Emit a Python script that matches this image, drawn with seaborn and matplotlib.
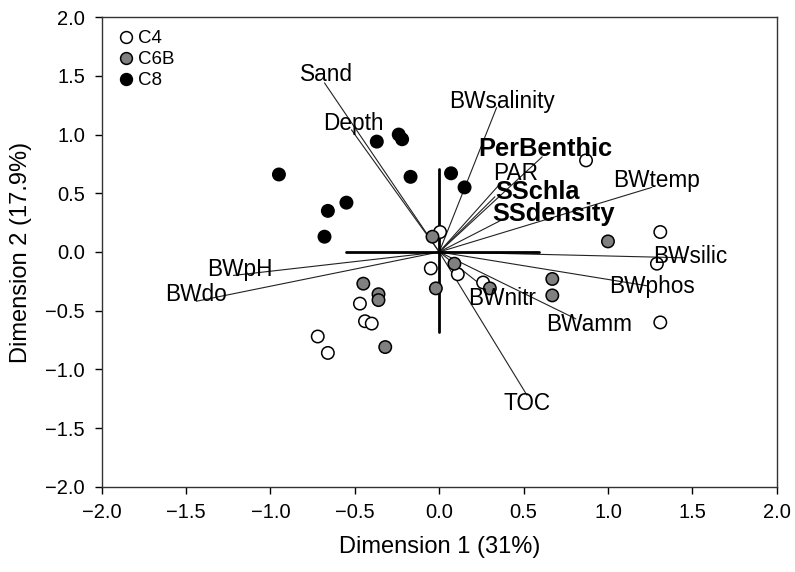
import numpy as np
import pandas as pd
import matplotlib
matplotlib.use("Agg")
import matplotlib.pyplot as plt
import seaborn as sns

# ---- sample scores ----
c4_x = [0.005, -0.05, 0.11, 0.26, 0.87, 1.31, 1.29, 1.31, -0.47, -0.44, -0.40, -0.72, -0.66]
c4_y = [0.17, -0.14, -0.19, -0.26, 0.78, 0.17, -0.10, -0.60, -0.44, -0.59, -0.61, -0.72, -0.86]
c6b_x = [-0.04, 0.09, -0.02, 0.30, -0.45, -0.36, -0.36, -0.32, 1.00, 0.67, 0.67]
c6b_y = [0.13, -0.10, -0.31, -0.31, -0.27, -0.36, -0.41, -0.81, 0.09, -0.23, -0.37]
c8_x = [-0.95, -0.66, -0.55, -0.68, -0.37, -0.24, -0.22, -0.17, 0.07, 0.15]
c8_y = [0.66, 0.35, 0.42, 0.13, 0.94, 1.00, 0.96, 0.64, 0.67, 0.55]
groups = ["C4", "C6B", "C8"]

# ---- environmental vectors ----
vec_names = ["Sand", "Depth", "BWsalinity", "PerBenthic", "PAR", "SSchla", "SSdensity",
             "BWtemp", "BWsilic", "BWphos", "BWamm", "BWnitr", "TOC", "BWdo", "BWpH"]
vec_x = [-0.68, -0.52, 0.34, 0.61, 0.36, 0.33, 0.38, 1.26, 1.46, 1.24, 0.81, 0.30, 0.52, -1.44, -1.22]
vec_y = [1.44, 1.04, 1.23, 0.81, 0.58, 0.47, 0.28, 0.55, -0.05, -0.29, -0.57, -0.34, -1.22, -0.42, -0.20]
bold_names = ["PerBenthic", "SSchla", "SSdensity"]

# ---- cross (axes of origin) ----
cross_h = [-0.55, 0.59]
cross_v = [-0.68, 0.71]

# ---- tick labels ----
ticks = [-2.0, -1.5, -1.0, -0.5, 0.0, 0.5, 1.0, 1.5, 2.0]

# layout: label offsets from vector ends
label_off = {
    "Sand": (0.01, 0.07), "Depth": (0.01, 0.05), "BWsalinity": (0.03, 0.05),
    "PerBenthic": (0.02, 0.07), "PAR": (0.09, 0.09), "SSchla": (0.25, 0.045),
    "SSdensity": (0.30, 0.045), "BWtemp": (0.03, 0.06), "BWsilic": (0.03, 0.01),
    "BWphos": (0.02, 0.00), "BWamm": (0.08, -0.05), "BWnitr": (0.07, -0.06),
    "TOC": (0.00, -0.07), "BWdo": (0.00, 0.06), "BWpH": (0.04, 0.05),
}

sns.set_style("ticks")
plt.rcParams["font.family"] = ["Liberation Sans", "DejaVu Sans"]
plt.rcParams["text.color"] = "black"
plt.rcParams["axes.labelcolor"] = "black"

df = pd.DataFrame({
    "x": c4_x + c6b_x + c8_x,
    "y": c4_y + c6b_y + c8_y,
    "group": ["C4"] * len(c4_x) + ["C6B"] * len(c6b_x) + ["C8"] * len(c8_x),
})

fig = plt.figure(figsize=(7.95, 5.72), dpi=100)
ax = fig.add_axes([0.128, 0.149, 0.849, 0.821])

# vectors
for n, vx, vy in zip(vec_names, vec_x, vec_y):
    ax.plot([0, vx], [0, vy], color="#222222", lw=0.8, zorder=1)
    dx, dy = label_off[n]
    bold = n in bold_names
    ax.text(vx + dx, vy + dy, n, ha="center", va="center",
            fontsize=18.3 if bold else 16.3,
            fontweight="bold" if bold else "normal", color="black", zorder=4)

# cross
ax.plot(cross_h, [0, 0], color="black", lw=2, zorder=2)
ax.plot([0, 0], cross_v, color="black", lw=2, zorder=2)

sns.scatterplot(data=df, x="x", y="y", hue="group", hue_order=groups,
                palette={"C4": "white", "C6B": "#808080", "C8": "black"},
                edgecolor="black", linewidth=1.1, s=80, ax=ax, zorder=3)

ax.set_xlim(-2, 2)
ax.set_ylim(-2, 2)
ax.set_xticks(ticks)
ax.set_yticks(ticks)
ax.set_xticklabels([f"{t:.1f}".replace("-", "\u2212") for t in ticks])
ax.set_yticklabels([f"{t:.1f}".replace("-", "\u2212") for t in ticks])
ax.tick_params(direction="out", length=5, width=1, labelsize=14.5, colors="black",
               labelcolor="black", pad=7)
for sp in ax.spines.values():
    sp.set_visible(True)
    sp.set_linewidth(1)
    sp.set_color("#333333")
ax.set_xlabel("Dimension 1 (31%)", fontsize=17, labelpad=10)
ax.set_ylabel("Dimension 2 (17.9%)", fontsize=17, labelpad=10)

leg = ax.legend(loc="upper left", frameon=False, fontsize=13.5, handletextpad=0.05,
                borderaxespad=0.3, labelspacing=0.2, markerscale=0.95,
                borderpad=0.4, handlelength=1.2)
for t in leg.get_texts():
    t.set_color("black")

fig.savefig("out.png", dpi=100)
